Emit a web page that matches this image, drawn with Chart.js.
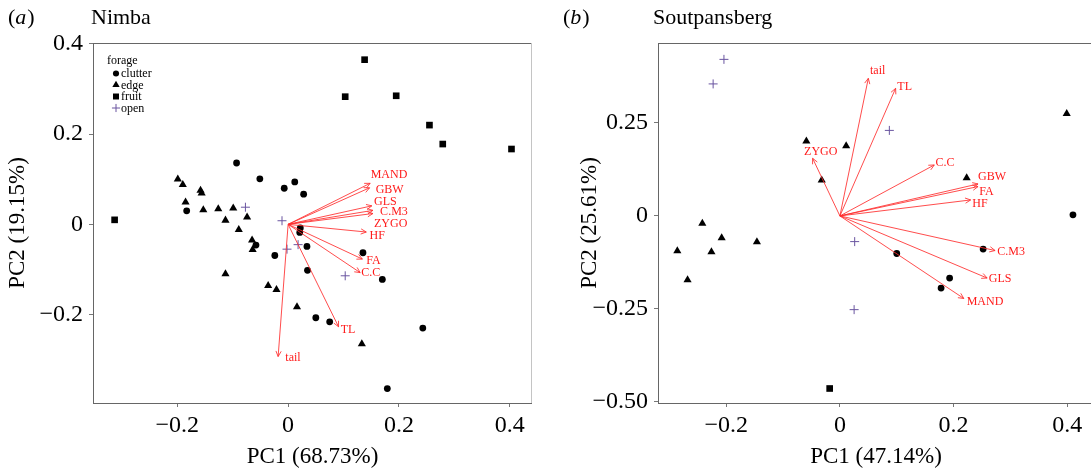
<!DOCTYPE html>
<html>
<head>
<meta charset="utf-8">
<title>PCA biplots - Nimba / Soutpansberg</title>
<script src="https://cdn.jsdelivr.net/npm/chart.js@4.4.1/dist/chart.umd.min.js"></script>
<style>
    html, body { margin: 0; padding: 0; background: #fff; width: 1091px; height: 468px; overflow: hidden; }
    #panelA { position: absolute; left: 0; top: 0; }
    #panelB { position: absolute; left: 560px; top: 0; }
</style>
</head>
<body>
<canvas id="panelA" width="545" height="468"></canvas>
<canvas id="panelB" width="540" height="468"></canvas>
<script>
// forage groups (legend)
const forageTitle = "forage";
const forageGroups = ["clutter", "edge", "fruit", "open"];

// (a) Nimba - PC scores per forage group [PC1, PC2]
const nimbaClutter = [[-0.093, 0.136], [-0.051, 0.101], [-0.007, 0.080], [0.012, 0.094], [0.028, 0.067],
    [-0.183, 0.030], [0.022, -0.008], [0.021, -0.018], [-0.058, -0.046], [0.034, -0.049], [-0.024, -0.069],
    [0.135, -0.063], [0.035, -0.102], [0.170, -0.122], [0.050, -0.207], [0.075, -0.216], [0.243, -0.230],
    [0.179, -0.364]];
const nimbaEdge = [[-0.199, 0.100], [-0.190, 0.088], [-0.158, 0.075], [-0.156, 0.069], [-0.185, 0.049],
    [-0.153, 0.032], [-0.126, 0.034], [-0.099, 0.036], [-0.074, 0.016], [-0.113, 0.009], [-0.089, -0.012],
    [-0.065, -0.035], [-0.064, -0.056], [-0.113, -0.110], [-0.036, -0.136], [-0.021, -0.145], [0.016, -0.183],
    [0.133, -0.265]];
const nimbaFruit = [[0.138, 0.365], [0.103, 0.283], [0.195, 0.285], [0.255, 0.220], [0.279, 0.178],
    [0.403, 0.167], [-0.313, 0.010]];
const nimbaOpen = [[-0.077, 0.038], [-0.011, 0.008], [-0.002, -0.055], [0.018, -0.045], [0.103, -0.114]];

// (a) Nimba - variable loadings (arrow tips) and label anchors
const nimbaVars = ["MAND", "GBW", "GLS", "C.M3", "ZYGO", "HF", "FA", "C.C", "TL", "tail"];
const nimbaLoadX = [0.148, 0.147, 0.151, 0.153, 0.153, 0.141, 0.134, 0.130, 0.091, -0.018];
const nimbaLoadY = [0.091, 0.081, 0.041, 0.031, 0.024, -0.017, -0.077, -0.107, -0.227, -0.293];
const nimbaLabelX = [0.149, 0.158, 0.155, 0.166, 0.155, 0.147, 0.141, 0.132, 0.095, -0.005];
const nimbaLabelY = [0.110, 0.077, 0.051, 0.027, 0.002, -0.026, -0.081, -0.108, -0.234, -0.296];

// (b) Soutpansberg - PC scores
const soutClutter = [[0.410, 0.003], [0.252, -0.089], [0.100, -0.101], [0.193, -0.167], [0.178, -0.194]];
const soutEdge = [[-0.059, 0.201], [0.011, 0.188], [-0.032, 0.096], [0.223, 0.102], [0.399, 0.275],
    [-0.242, -0.020], [-0.208, -0.059], [-0.146, -0.070], [-0.286, -0.094], [-0.226, -0.097], [-0.268, -0.172]];
const soutFruit = [[-0.018, -0.464]];
const soutOpen = [[-0.204, 0.421], [-0.223, 0.355], [0.087, 0.230], [0.026, -0.069], [0.025, -0.252]];

// (b) Soutpansberg - loadings
const soutVars = ["tail", "TL", "ZYGO", "C.C", "GBW", "FA", "HF", "C.M3", "GLS", "MAND"];
const soutLoadX = [0.050, 0.098, -0.048, 0.166, 0.243, 0.243, 0.230, 0.273, 0.259, 0.218];
const soutLoadY = [0.370, 0.343, 0.155, 0.137, 0.086, 0.079, 0.043, -0.093, -0.167, -0.222];
const soutLabelX = [0.053, 0.101, -0.063, 0.168, 0.243, 0.245, 0.233, 0.277, 0.262, 0.223];
const soutLabelY = [0.389, 0.346, 0.171, 0.144, 0.106, 0.066, 0.032, -0.096, -0.169, -0.231];

// ticks
const nimbaXTicks = [-0.2, 0, 0.2, 0.4];
const nimbaXLabels = ["\u22120.2", "0", "0.2", "0.4"];
const nimbaYTicks = [-0.2, 0, 0.2, 0.4];
const nimbaYLabels = ["\u22120.2", "0", "0.2", "0.4"];
const soutXTicks = [-0.2, 0, 0.2, 0.4];
const soutXLabels = ["\u22120.2", "0", "0.2", "0.4"];
const soutYTicks = [-0.5, -0.25, 0, 0.25];
const soutYLabels = ["\u22120.50", "\u22120.25", "0", "0.25"];

const SERIF = '"Liberation Serif", "Times New Roman", serif';
const OPEN_COLOR = "#6a55a0";
const ARROW_COLOR = "rgba(255, 45, 45, 0.85)";
const LABEL_COLOR = "#ff1a1a";

Chart.defaults.font.family = SERIF;
Chart.defaults.color = "#000";

// marker styles for the 4 forage groups
const groupStyles = [
    { pointStyle: "circle", pointRadius: 3.4, color: "#000", borderWidth: 0 },
    { pointStyle: "triangle", pointRadius: 4.7, color: "#000", borderWidth: 0 },
    { pointStyle: "rect", pointRadius: 4.7, color: "#000", borderWidth: 0 },
    { pointStyle: "cross", pointRadius: 4.5, color: OPEN_COLOR, borderWidth: 1 }
];

function makeDatasets(groups) {
    return groups.map(function (pairs, i) {
        const s = groupStyles[i];
        return {
            label: forageGroups[i],
            data: pairs.map(p => ({ x: p[0], y: p[1] })),
            pointStyle: s.pointStyle,
            pointRadius: s.pointRadius,
            backgroundColor: s.color,
            borderColor: s.color,
            borderWidth: s.borderWidth
        };
    });
}

// draws frame, loading arrows, panel title and (optionally) the legend
function makeBiplot(cfg) {
    return {
        id: "biplot" + cfg.tag,
        afterDatasetsDraw(chart) {
            const ctx = chart.ctx;
            const a = chart.chartArea;
            const xs = chart.scales.x, ys = chart.scales.y;
            ctx.save();

            // frame
            ctx.lineWidth = 1;
            ctx.strokeStyle = "#666";
            ctx.beginPath();
            ctx.moveTo(a.left + 0.5, a.top + 0.5);
            ctx.lineTo(a.right, a.top + 0.5);
            ctx.moveTo(a.left + 0.5, a.top);
            ctx.lineTo(a.left + 0.5, a.bottom + 1);
            ctx.moveTo(a.left, a.bottom + 0.5);
            ctx.lineTo(a.right, a.bottom + 0.5);
            ctx.stroke();
            ctx.strokeStyle = "#c4c4c4";
            ctx.beginPath();
            ctx.moveTo(a.right - 0.5, a.top);
            ctx.lineTo(a.right - 0.5, a.bottom);
            ctx.stroke();

            // arrows
            const x0 = xs.getPixelForValue(0), y0 = ys.getPixelForValue(0);
            ctx.strokeStyle = ARROW_COLOR;
            ctx.lineWidth = 1;
            cfg.names.forEach(function (name, i) {
                const px = xs.getPixelForValue(cfg.lx[i]);
                const py = ys.getPixelForValue(cfg.ly[i]);
                const ang = Math.atan2(py - y0, px - x0);
                ctx.beginPath();
                ctx.moveTo(x0, y0);
                ctx.lineTo(px, py);
                ctx.moveTo(px - 6 * Math.cos(ang - 0.45), py - 6 * Math.sin(ang - 0.45));
                ctx.lineTo(px, py);
                ctx.lineTo(px - 6 * Math.cos(ang + 0.45), py - 6 * Math.sin(ang + 0.45));
                ctx.stroke();
            });
            ctx.fillStyle = LABEL_COLOR;
            ctx.font = "12px " + SERIF;
            ctx.textAlign = "left";
            ctx.textBaseline = "middle";
            cfg.names.forEach(function (name, i) {
                ctx.fillText(name, xs.getPixelForValue(cfg.tx[i]), ys.getPixelForValue(cfg.ty[i]));
            });

            // panel title: "(a)" with italic letter, then site name
            ctx.fillStyle = "#000";
            ctx.font = "22px " + SERIF;
            let tx = cfg.tagX;
            ctx.fillText("(", tx, 18);
            tx += ctx.measureText("(").width;
            ctx.font = "italic 22px " + SERIF;
            ctx.fillText(cfg.tag, tx, 18);
            tx += ctx.measureText(cfg.tag).width + 1;
            ctx.font = "22px " + SERIF;
            ctx.fillText(")", tx, 18);
            ctx.fillText(cfg.title, cfg.titleX, 18);

            // legend
            if (cfg.legend) {
                ctx.font = "12px " + SERIF;
                ctx.fillText(forageTitle, 107, 61);
                forageGroups.forEach(function (g, i) {
                    const yy = 73.5 + i * 11.5;
                    const s = groupStyles[i];
                    ctx.fillStyle = s.color;
                    ctx.strokeStyle = s.color;
                    ctx.lineWidth = 1;
                    Chart.helpers.drawPoint(ctx, {
                        pointStyle: s.pointStyle,
                        radius: s.pointRadius * 0.9,
                        rotation: 0,
                        borderWidth: s.borderWidth
                    }, 116, yy);
                    ctx.fillStyle = "#000";
                    ctx.fillText(g, 121, yy + 0.5);
                });
            }
            ctx.restore();
        }
    };
}

function makeScale(pos, min, max, ticks, labels, size, title, titlePad) {
    return {
        type: "linear",
        position: pos,
        min: min,
        max: max,
        afterBuildTicks: function (scale) {
            scale.ticks = ticks.map(v => ({ value: v }));
        },
        afterFit: function (scale) {
            if (pos === "left") scale.width = size; else scale.height = size;
        },
        ticks: {
            autoSkip: false,
            maxRotation: 0,
            padding: pos === "left" ? 6 : 4,
            font: { size: 24, family: SERIF },
            color: "#000",
            callback: function (value, index) { return labels[index]; }
        },
        grid: { drawOnChartArea: false, drawTicks: true, tickLength: 4, color: "#777" },
        border: { display: false },
        title: {
            display: true,
            text: title,
            font: { size: 23, family: SERIF, lineHeight: 1 },
            color: "#000",
            padding: { top: titlePad, bottom: 0 }
        }
    };
}

function makeChart(canvasId, groups, plot, scales, padRight) {
    return new Chart(document.getElementById(canvasId), {
        type: "scatter",
        data: { datasets: makeDatasets(groups) },
        options: {
            responsive: false,
            animation: false,
            devicePixelRatio: 1,
            events: [],
            layout: { padding: { left: 0, top: 43, right: padRight, bottom: 0 } },
            plugins: { legend: { display: false }, tooltip: { enabled: false } },
            scales: scales
        },
        plugins: [makeBiplot(plot)]
    });
}

// (a) Nimba
makeChart("panelA", [nimbaClutter, nimbaEdge, nimbaFruit, nimbaOpen], {
    tag: "a", tagX: 8, title: "Nimba", titleX: 91, legend: true,
    names: nimbaVars, lx: nimbaLoadX, ly: nimbaLoadY, tx: nimbaLabelX, ty: nimbaLabelY
}, {
    x: makeScale("bottom", -0.352, 0.440, nimbaXTicks, nimbaXLabels, 65, "PC1 (68.73%)", 0),
    y: makeScale("left", -0.396, 0.402, nimbaYTicks, nimbaYLabels, 93, "PC2 (19.15%)", 6)
}, 13);

// (b) Soutpansberg
makeChart("panelB", [soutClutter, soutEdge, soutFruit, soutOpen], {
    tag: "b", tagX: 3, title: "Soutpansberg", titleX: 93, legend: false,
    names: soutVars, lx: soutLoadX, ly: soutLoadY, tx: soutLabelX, ty: soutLabelY
}, {
    x: makeScale("bottom", -0.320, 0.447, soutXTicks, soutXLabels, 65, "PC1 (47.14%)", 0),
    y: makeScale("left", -0.503, 0.465, soutYTicks, soutYLabels, 98, "PC2 (25.61%)", 18)
}, 6);
</script>
</body>
</html>
